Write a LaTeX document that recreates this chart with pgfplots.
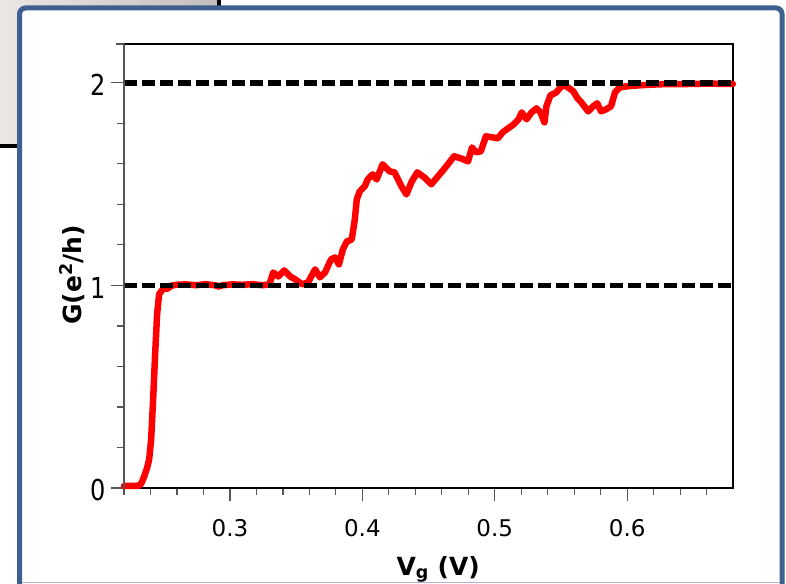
\documentclass[border=0pt]{standalone}
\usepackage{fontspec}
\setmainfont{DejaVu Sans}
\usepackage{pgfplots}
\usepackage{pgfplotstable}
\pgfplotsset{compat=1.18}
\definecolor{framecol}{RGB}{62,96,145}
\definecolor{grayl}{RGB}{236,231,229}
\definecolor{grayr}{RGB}{194,190,188}
\definecolor{axgray}{RGB}{85,85,85}
\pgfplotstableread{
x y
0.2200 0.010
0.2255 0.010
0.2308 0.010
0.2330 0.022
0.2353 0.057
0.2375 0.101
0.2390 0.141
0.2405 0.240
0.2420 0.437
0.2435 0.659
0.2450 0.857
0.2465 0.956
0.2480 0.970
0.2503 0.988
0.2525 0.982
0.2555 0.998
0.2593 1.003
0.2668 1.005
0.2743 1.001
0.2818 1.006
0.2893 1.000
0.2915 0.994
0.2945 1.001
0.3020 1.005
0.3095 1.003
0.3170 1.006
0.3245 1.001
0.3298 1.005
0.3327 1.064
0.3365 1.044
0.3410 1.074
0.3455 1.044
0.3493 1.030
0.3545 1.005
0.3590 1.015
0.3643 1.079
0.3680 1.040
0.3718 1.064
0.3763 1.128
0.3793 1.138
0.3823 1.104
0.3853 1.178
0.3883 1.217
0.3920 1.227
0.3943 1.326
0.3958 1.425
0.3980 1.464
0.4018 1.489
0.4040 1.523
0.4078 1.548
0.4108 1.523
0.4153 1.598
0.4205 1.563
0.4243 1.558
0.4295 1.489
0.4333 1.449
0.4370 1.509
0.4415 1.558
0.4468 1.533
0.4520 1.499
0.4558 1.528
0.4603 1.563
0.4640 1.593
0.4693 1.637
0.4745 1.627
0.4798 1.612
0.4828 1.681
0.4858 1.657
0.4895 1.662
0.4933 1.736
0.4978 1.731
0.5023 1.726
0.5060 1.756
0.5090 1.770
0.5143 1.795
0.5180 1.820
0.5203 1.854
0.5240 1.820
0.5278 1.854
0.5315 1.874
0.5345 1.854
0.5375 1.805
0.5390 1.884
0.5420 1.938
0.5465 1.953
0.5503 1.983
0.5540 1.983
0.5593 1.958
0.5623 1.925
0.5653 1.904
0.5705 1.859
0.5743 1.884
0.5773 1.899
0.5803 1.859
0.5840 1.869
0.5878 1.884
0.5908 1.953
0.5945 1.978
0.6005 1.983
0.6058 1.986
0.6155 1.990
0.6305 1.994
0.6455 1.994
0.6605 1.996
0.6798 1.994
}\gdata
\begin{document}
\begin{tikzpicture}
\useasboundingbox (0pt,0pt) rectangle (786pt,-583pt);
\shade[left color=grayl, right color=grayr] (0pt,0pt) rectangle (219pt,-146pt);
\draw[black, line width=4pt] (219pt,2pt) -- (219pt,-146pt) -- (-2pt,-146pt);
\draw[framecol, line width=5pt, fill=white, rounded corners=6pt] (19.5pt,-8pt) rectangle (782pt,-600pt);
\draw[framecol!45, line width=1pt] (22pt,-582.5pt) -- (779.5pt,-582.5pt);
\begin{axis}[
  at={(124pt,-488pt)}, anchor=south west,
  width=609pt, height=444pt, scale only axis,
  xmin=0.22, xmax=0.6799, ymin=0, ymax=2.1915,
  xtick={0.3,0.4,0.5,0.6},
  xticklabels={0.3,0.4,0.5,0.6},
  minor xtick={0.22,0.24,0.26,0.28,0.32,0.34,0.36,0.38,0.42,0.44,0.46,0.48,0.52,0.54,0.56,0.58,0.62,0.64,0.66},
  ytick={0,1,2},
  yticklabels={0,1,2},
  minor ytick={0.2,0.4,0.6,0.8,1.2,1.4,1.6,1.8},
  extra y ticks={2.1915}, extra y tick labels={},
  extra y tick style={major tick length=8pt},
  tick pos=left, tick align=outside,
  major tick length=13pt, minor tick length=7pt,
  every tick/.style={axgray, line width=1.2pt},
  axis line style={black, line width=1.2pt},
  /pgf/number format/assume math mode=true,
  xticklabel style={font=\fontsize{23}{23}\selectfont, yshift=-15pt},
  yticklabel style={font=\fontsize{24}{24}\selectfont, yscale=1.2, xshift=-2pt, yshift=-2pt},
  xlabel={\textbf{V\textsubscript{g} (V)}},
  ylabel={\textbf{G(e\textsuperscript{2}/h)}},
  xlabel style={font=\fontsize{25}{25}\selectfont, at={(axis description cs:0.516,0)}, anchor=base, yshift=-87pt},
  ylabel style={font=\fontsize{25}{25}\selectfont, at={(axis description cs:-0.0854,0.48)}, anchor=center},
  clip=false,
]
\addplot[red, line width=6.5pt, line join=round, line cap=round] table[x=x, y=y] {\gdata};
\addplot[black, line width=5.5pt, dash pattern=on 13pt off 5pt] coordinates {(0.22,1) (0.6799,1)};
\addplot[black, line width=5.5pt, dash pattern=on 13pt off 5pt] coordinates {(0.22,2) (0.6799,2)};
\draw[axgray, line width=1.4pt] (rel axis cs:0,0) -- (rel axis cs:0,1);
\end{axis}
\end{tikzpicture}
\end{document}
